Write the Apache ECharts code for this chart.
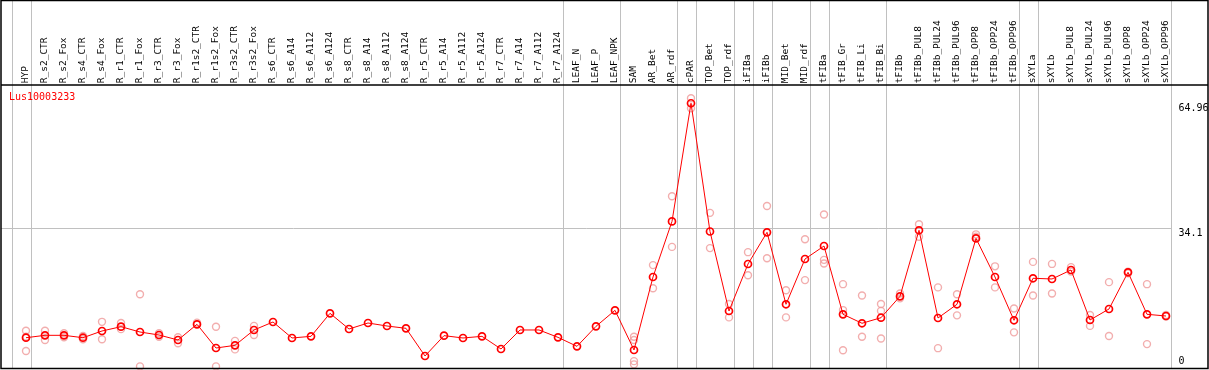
<!DOCTYPE html>
<html>
<head>
<meta charset="utf-8">
<script src="https://cdn.jsdelivr.net/npm/echarts@6/dist/echarts.min.js"></script>
<style>html,body{margin:0;padding:0;background:#fff}#c{width:1209px;height:370px}</style>
</head>
<body>
<div id="c"></div>
<script>
var categories = ["HYP","R_s2_CTR","R_s2_Fox","R_s4_CTR","R_s4_Fox","R_r1_CTR","R_r1_Fox","R_r3_CTR","R_r3_Fox","R_r1s2_CTR","R_r1s2_Fox","R_r3s2_CTR","R_r3s2_Fox","R_s6_CTR","R_s6_A14","R_s6_A112","R_s6_A124","R_s8_CTR","R_s8_A14","R_s8_A112","R_s8_A124","R_r5_CTR","R_r5_A14","R_r5_A112","R_r5_A124","R_r7_CTR","R_r7_A14","R_r7_A112","R_r7_A124","LEAF_N","LEAF_P","LEAF_NPK","SAM","AR_Bet","AR_rdf","cPAR","TOP_Bet","TOP_rdf","iFIBa","iFIBb","MID_Bet","MID_rdf","tFIBa","tFIB_Gr","tFIB_Li","tFIB_Bi","tFIBb","tFIBb_PUL8","tFIBb_PUL24","tFIBb_PUL96","tFIBb_OPP8","tFIBb_OPP24","tFIBb_OPP96","sXYLa","sXYLb","sXYLb_PUL8","sXYLb_PUL24","sXYLb_PUL96","sXYLb_OPP8","sXYLb_OPP24","sXYLb_OPP96"];

var meanValues = [7.08,7.67,7.67,7.08,8.74,9.8,8.49,7.75,6.52,10.39,4.54,5.2,8.99,10.96,7.01,7.42,13.1,9.23,10.71,9.97,9.4,2.57,7.59,7.01,7.42,4.3,8.99,8.99,7.17,4.95,9.89,13.84,4.05,22.07,35.8,64.96,33.3,13.67,25.28,33.1,15.33,26.51,29.72,12.86,10.64,12.02,17.3,33.6,11.95,15.33,31.6,22.07,11.38,21.75,21.58,23.8,11.45,14.17,23.23,12.86,12.44];

var rep1 = [8.8,8.8,8.2,7.5,11.0,10.7,17.8,8.2,7.2,10.8,9.8,6.3,10.0,null,null,null,null,null,null,null,null,null,null,null,null,null,null,null,null,null,null,null,7.3,25.0,42.0,66.2,37.9,15.4,28.2,39.6,18.8,31.4,37.5,20.3,17.5,15.4,18.0,35.1,19.5,17.8,32.6,24.7,14.3,25.8,25.3,24.5,12.7,20.8,23.4,20.3,12.7];
var rep2 = [3.8,6.5,7.2,6.7,6.7,9.2,0.0,7.3,5.7,null,0.0,4.2,7.75,null,null,null,null,null,null,null,null,null,null,null,null,null,null,null,null,null,null,null,6.5,19.3,29.5,63.7,29.2,12.1,22.5,26.7,12.1,21.3,26.3,13.9,7.3,13.7,16.8,32.0,4.5,12.6,32.0,19.5,8.4,17.5,18.0,23.4,10.0,7.5,23.0,5.5,12.3];
var rep3 = [7.3,null,null,null,null,null,null,null,null,null,null,null,null,null,null,null,null,null,null,null,null,null,null,null,null,null,null,null,null,null,null,null,1.3,null,null,null,null,null,null,null,null,null,25.4,4.0,null,6.9,null,null,null,null,null,null,null,null,null,null,null,null,null,null,null];
var rep4 = [null,null,null,null,null,null,null,null,null,null,null,null,null,null,null,null,null,null,null,null,null,null,null,null,null,null,null,null,null,null,null,null,0.5,null,null,null,null,null,null,null,null,null,null,null,null,null,null,null,null,null,null,null,null,null,null,null,null,null,null,null,null];

var groupEnds = [-1,0,28,31,34,35,37,38,39,41,42,45,52,53,60];
var tickValues = [64.96, 34.1, 0];
var tickLabels = ["64.96", "34.1", "0"];
var geneName = "Lus10003233";

var mono = "DejaVu Sans Mono";
var repPoints = [];
[rep1, rep2, rep3, rep4].forEach(function (arr) {
  arr.forEach(function (v, i) { if (v !== null) repPoints.push([i, v]); });
});

var chart = echarts.init(document.getElementById('c'), null, {renderer: 'canvas'});
chart.setOption({
  animation: false,
  backgroundColor: '#fff',
  grid: {left: 16.5, width: 1159, top: 84.7, height: 283.6, show: false},
  xAxis: {
    type: 'category', data: categories, position: 'top', boundaryGap: true,
    axisLine: {show: false}, axisTick: {show: false}, splitLine: {show: false},
    axisLabel: {interval: 0, rotate: 90, margin: 1.5, fontFamily: mono, fontSize: 9.5, color: '#000'}
  },
  yAxis: {type: 'value', min: -0.47, max: 69.54, show: false, splitLine: {show: false}},
  series: [
    {
      type: 'scatter', data: repPoints, symbol: 'circle', symbolSize: 7, z: 2,
      itemStyle: {color: 'rgba(255,255,255,0)', borderColor: '#ef9a9a', borderWidth: 1.4}
    },
    {
      type: 'line', data: meanValues, symbol: 'circle', symbolSize: 7, showAllSymbol: true, z: 3,
      lineStyle: {color: '#ff0000', width: 1},
      itemStyle: {color: 'rgba(255,255,255,0)', borderColor: '#ff0000', borderWidth: 1.7}
    }
  ]
});

var p0 = chart.convertToPixel({xAxisIndex: 0, yAxisIndex: 0}, [0, 0]);
var p1 = chart.convertToPixel({xAxisIndex: 0, yAxisIndex: 0}, [1, 0]);
var step = p1[0] - p0[0];
var gfx = [];
var lastSep = 0;
groupEnds.forEach(function (b) {
  var x = Math.round(p0[0] + (b + 0.24) * step) + 0.5;
  lastSep = x;
  gfx.push({type: 'line', z: 0, shape: {x1: x, y1: 0, x2: x, y2: 368}, style: {stroke: '#c0c0c0', lineWidth: 1}});
});
var yMid = chart.convertToPixel({yAxisIndex: 0}, tickValues[1]);
gfx.push({type: 'line', z: 0, shape: {x1: 1, y1: Math.round(yMid) + 0.5, x2: lastSep, y2: Math.round(yMid) + 0.5}, style: {stroke: '#c0c0c0', lineWidth: 1}});
tickValues.forEach(function (v, k) {
  var y = chart.convertToPixel({yAxisIndex: 0}, v);
  var isBottom = (v === 0);
  gfx.push({type: 'text', z: 20, x: lastSep + 7, y: isBottom ? 366 : y + 0.5,
    style: {text: tickLabels[k], font: '10px "' + mono + '"', fill: '#000', textVerticalAlign: isBottom ? 'bottom' : 'top'}});
});
gfx.push({type: 'text', z: 20, x: 9, y: 97, style: {text: geneName, font: '10px "' + mono + '"', fill: '#ff0000', textVerticalAlign: 'middle'}});
gfx.push({type: 'rect', z: 30, shape: {x: 1, y: 0.5, width: 1207, height: 368}, style: {fill: 'none', stroke: '#000', lineWidth: 1.5}});
gfx.push({type: 'line', z: 30, shape: {x1: 1, y1: 85, x2: 1208, y2: 85}, style: {stroke: '#000', lineWidth: 1.5}});
chart.setOption({graphic: gfx});
</script>
</body>
</html>
